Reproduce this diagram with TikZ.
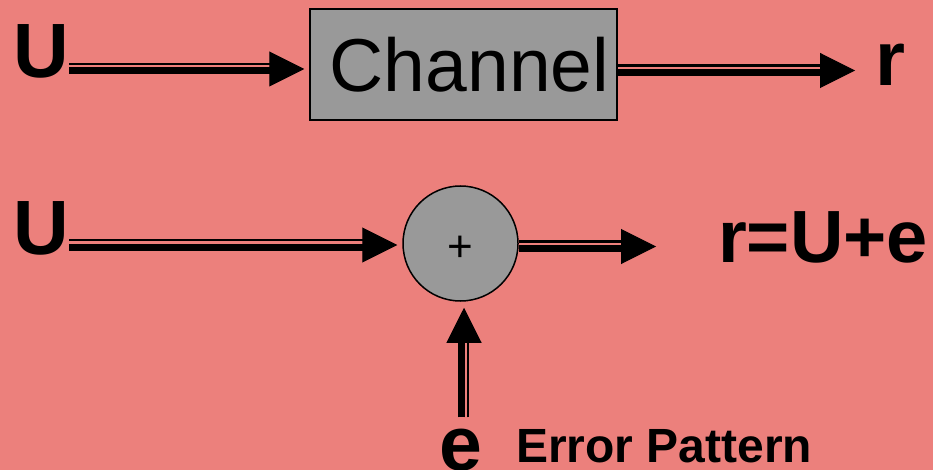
\documentclass[tikz,border=0pt]{standalone}
\usepackage{fontspec}
\setmainfont{Liberation Sans}
\usetikzlibrary{arrows.meta}

\definecolor{bgsalmon}{RGB}{236,128,124}
\definecolor{blockgray}{RGB}{153,153,153}

% horizontal bus arrow: thin rail above, heavy rail below, one solid head
\newcommand\hbus[2]{%
  \draw[bushead] #1 -- #2;
  \draw[busthick, transform canvas={yshift=-2pt}] #1 -- #2;
  \draw[busthin, transform canvas={yshift=5pt}] #1 -- #2;}
% vertical bus arrow: heavy rail left, thin rail right
\newcommand\vbus[2]{%
  \draw[bushead] #1 -- #2;
  \draw[busthick, transform canvas={xshift=-3pt}] #1 -- #2;
  \draw[busthin, transform canvas={xshift=4pt}] #1 -- #2;}

\tikzset{
  bushead/.style={line width=1pt, -{Triangle[length=35pt,width=35pt]}},
  busthick/.style={line width=7pt, shorten >=30pt},
  busthin/.style={line width=2.4pt, shorten >=34pt},
  bigbold/.style={font=\fontsize{77}{80}\selectfont\bfseries, inner sep=0pt, anchor=base west},
  block/.style={draw, line width=1.5pt, fill=blockgray, inner sep=0pt},
}

\begin{document}
\begin{tikzpicture}[x=1pt, y=-1pt]
  \fill[bgsalmon] (0,0) rectangle (933,470);
  \useasboundingbox (0,0) rectangle (933,470);

  % channel model
  \node[bigbold] (U1) at (13,78) {U};
  \node[block, minimum width=307pt, minimum height=111pt] (ch) at (463.5,64.5) {};
  \node[font=\fontsize{75}{78}\selectfont, inner sep=0pt] (chtxt) at ([xshift=6pt]ch.center) {Channel};
  \node[bigbold] (r1) at (875,86) {r};

  \coordinate (t1) at ([xshift=-5pt, yshift=-4.5pt]ch.west);
  \coordinate (t2) at (855,70.5);
  \hbus{(U1.east |- t1)}{(t1)}
  \hbus{(ch.east |- t2)}{(t2)}

  % additive error model
  \node[bigbold] (U2) at (13,254) {U};
  \node[block, circle, minimum size=115pt] (sum) at (460.5,243.5) {};
  \node[font=\fontsize{44}{46}\selectfont, inner sep=0pt] (plus) at ([yshift=-5pt]sum.center) {+};
  \node[bigbold, font=\fontsize{74}{78}\selectfont\bfseries] (res) at (718,262) {r=U+e};
  \node[bigbold] (e) at (439,470) {e};
  \node[font=\fontsize{48}{50}\selectfont\bfseries, inner sep=0pt, anchor=base west] (ep) at (516,462) {Error Pattern};

  \coordinate (t3) at ([xshift=-5pt, yshift=-1.5pt]sum.west);
  \coordinate (t4) at (656,246.5);
  \coordinate (t5) at ([xshift=3.5pt, yshift=-6pt]sum.south);
  \coordinate (e0) at ([yshift=11pt]e.north -| t5);
  \hbus{(U2.east |- t3)}{(t3)}
  \hbus{(sum.east |- t4)}{(t4)}
  \vbus{(e0)}{(t5)}
\end{tikzpicture}
\end{document}
